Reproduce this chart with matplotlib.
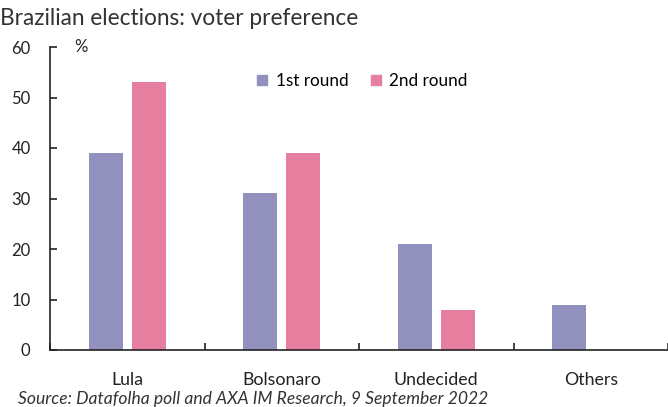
import numpy as np
import matplotlib.pyplot as plt
from matplotlib.patches import Patch

categories = ['Lula', 'Bolsonaro', 'Undecided', 'Others']
round1 = [39, 31, 21, 9]
round2 = [53, 39, 8, 0]
yticks = [0, 10, 20, 30, 40, 50, 60]

purple = '#9290bd'
pink = '#e57e9f'

plt.rcParams['font.family'] = ['Lato', 'DejaVu Sans']

fig = plt.figure(figsize=(6.68, 4.07), dpi=100)
ax = fig.add_axes([50 / 668, 57 / 407, 618 / 668, 303 / 407])

x = np.arange(len(categories))
w = 0.22
ax.bar(x - 0.14, round1, width=w, color=purple, label='1st round')
ax.bar(x + 0.14, round2, width=w, color=pink, label='2nd round')

ax.set_xlim(-0.5, len(categories) - 0.5)
ax.set_ylim(0, 60)
ax.set_yticks(yticks)
ax.set_xticks(x)
ax.set_xticklabels(categories)
ax.set_xticks(np.arange(len(categories) + 1) - 0.5, minor=True)

ax.tick_params(axis='y', direction='in', length=5, width=1.2, labelsize=12, colors='#222222', pad=14)
ax.tick_params(axis='x', which='major', length=0, labelsize=12.8, colors='#222222', pad=16)
ax.tick_params(axis='x', which='minor', direction='in', length=5, width=1.2, color='#222222')

for s in ['top', 'right']:
    ax.spines[s].set_visible(False)
for s in ['left', 'bottom']:
    ax.spines[s].set_linewidth(1.2)
    ax.spines[s].set_color('#222222')

handles = [Patch(color=purple), Patch(color=pink)]
ax.legend(handles, ['1st round', '2nd round'], loc='upper left', bbox_to_anchor=(0.31, 0.965),
          ncol=2, frameon=False, fontsize=12.3, handlelength=0.6, handleheight=0.6,
          handletextpad=0.5, columnspacing=1.3)

ax.text(0.04, 1.0, '%', transform=ax.transAxes, fontsize=12, va='center', color='#222222')

fig.text(0.0, 0.955, 'Brazilian elections: voter preference', fontsize=16.3, color='#333333', va='center')
fig.text(0.027, 0.02, 'Source: Datafolha poll and AXA IM Research, 9 September 2022',
         fontsize=12.6, style='italic', color='#333333', va='center')

fig.savefig('out.png', dpi=100)
